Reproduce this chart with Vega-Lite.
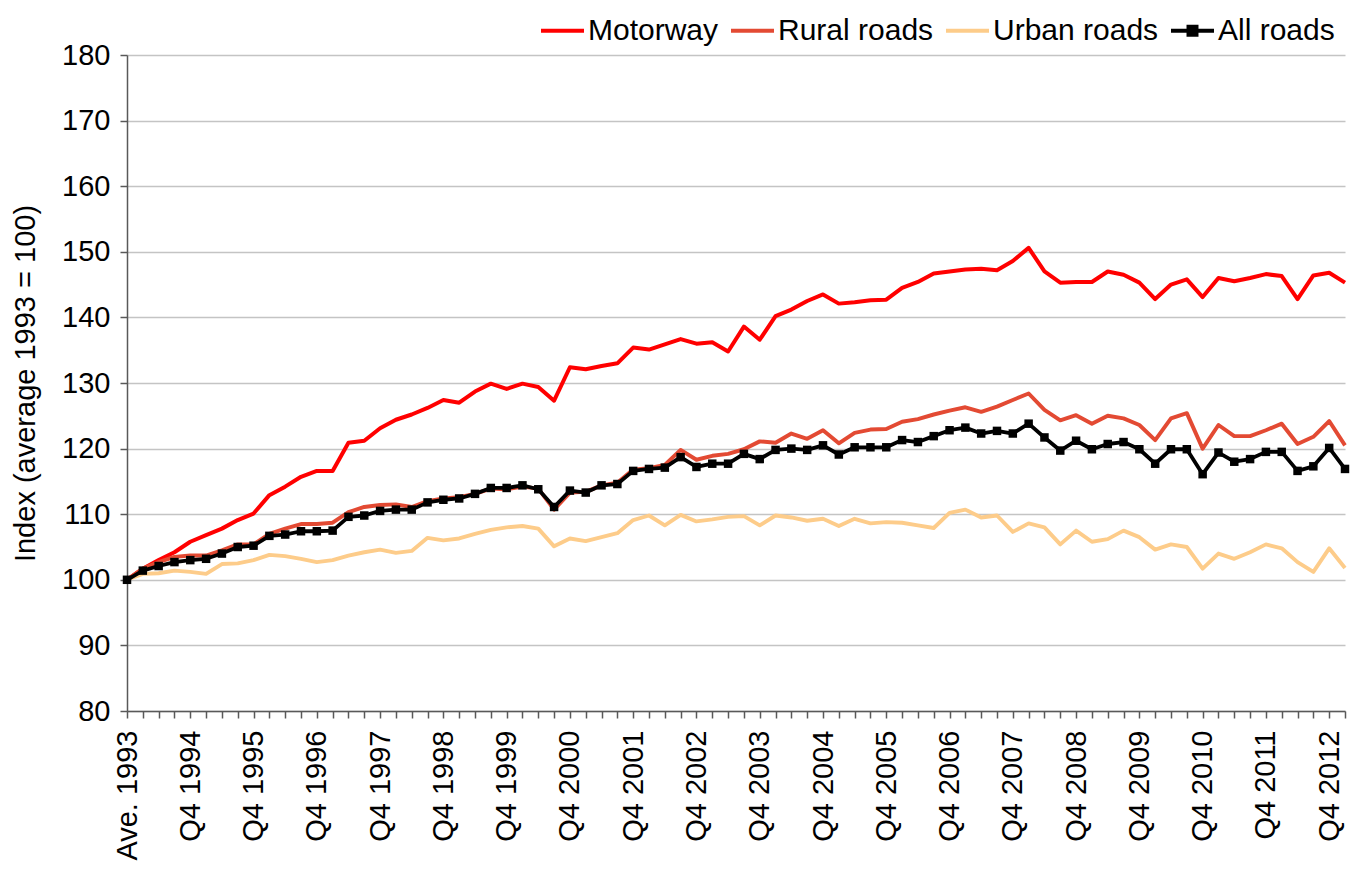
{
"$schema": "https://vega.github.io/schema/vega-lite/v6.json",
"width": 1218, "height": 656,
"autosize": {"type": "none"},
"padding": {"left": 127, "top": 55, "right": 7, "bottom": 158},
"background": "white",
"config": {"view": {"stroke": null}, "font": "Liberation Sans"},
"datasets": {"roads": [
{"period":"Ave. 1993","road":"Motorway","index":100},
{"period":"Q1 1994","road":"Motorway","index":101.7},
{"period":"Q2 1994","road":"Motorway","index":103.0},
{"period":"Q3 1994","road":"Motorway","index":104.2},
{"period":"Q4 1994","road":"Motorway","index":105.8},
{"period":"Q1 1995","road":"Motorway","index":106.8},
{"period":"Q2 1995","road":"Motorway","index":107.8},
{"period":"Q3 1995","road":"Motorway","index":109.1},
{"period":"Q4 1995","road":"Motorway","index":110.1},
{"period":"Q1 1996","road":"Motorway","index":112.9},
{"period":"Q2 1996","road":"Motorway","index":114.2},
{"period":"Q3 1996","road":"Motorway","index":115.7},
{"period":"Q4 1996","road":"Motorway","index":116.6},
{"period":"Q1 1997","road":"Motorway","index":116.6},
{"period":"Q2 1997","road":"Motorway","index":120.9},
{"period":"Q3 1997","road":"Motorway","index":121.2},
{"period":"Q4 1997","road":"Motorway","index":123.1},
{"period":"Q1 1998","road":"Motorway","index":124.4},
{"period":"Q2 1998","road":"Motorway","index":125.2},
{"period":"Q3 1998","road":"Motorway","index":126.2},
{"period":"Q4 1998","road":"Motorway","index":127.4},
{"period":"Q1 1999","road":"Motorway","index":127.0},
{"period":"Q2 1999","road":"Motorway","index":128.7},
{"period":"Q3 1999","road":"Motorway","index":129.9},
{"period":"Q4 1999","road":"Motorway","index":129.1},
{"period":"Q1 2000","road":"Motorway","index":129.9},
{"period":"Q2 2000","road":"Motorway","index":129.4},
{"period":"Q3 2000","road":"Motorway","index":127.3},
{"period":"Q4 2000","road":"Motorway","index":132.4},
{"period":"Q1 2001","road":"Motorway","index":132.1},
{"period":"Q2 2001","road":"Motorway","index":132.6},
{"period":"Q3 2001","road":"Motorway","index":133.0},
{"period":"Q4 2001","road":"Motorway","index":135.4},
{"period":"Q1 2002","road":"Motorway","index":135.1},
{"period":"Q2 2002","road":"Motorway","index":135.9},
{"period":"Q3 2002","road":"Motorway","index":136.7},
{"period":"Q4 2002","road":"Motorway","index":136.0},
{"period":"Q1 2003","road":"Motorway","index":136.2},
{"period":"Q2 2003","road":"Motorway","index":134.8},
{"period":"Q3 2003","road":"Motorway","index":138.6},
{"period":"Q4 2003","road":"Motorway","index":136.6},
{"period":"Q1 2004","road":"Motorway","index":140.2},
{"period":"Q2 2004","road":"Motorway","index":141.2},
{"period":"Q3 2004","road":"Motorway","index":142.5},
{"period":"Q4 2004","road":"Motorway","index":143.5},
{"period":"Q1 2005","road":"Motorway","index":142.1},
{"period":"Q2 2005","road":"Motorway","index":142.3},
{"period":"Q3 2005","road":"Motorway","index":142.6},
{"period":"Q4 2005","road":"Motorway","index":142.7},
{"period":"Q1 2006","road":"Motorway","index":144.5},
{"period":"Q2 2006","road":"Motorway","index":145.4},
{"period":"Q3 2006","road":"Motorway","index":146.7},
{"period":"Q4 2006","road":"Motorway","index":147.0},
{"period":"Q1 2007","road":"Motorway","index":147.3},
{"period":"Q2 2007","road":"Motorway","index":147.4},
{"period":"Q3 2007","road":"Motorway","index":147.2},
{"period":"Q4 2007","road":"Motorway","index":148.6},
{"period":"Q1 2008","road":"Motorway","index":150.6},
{"period":"Q2 2008","road":"Motorway","index":147.0},
{"period":"Q3 2008","road":"Motorway","index":145.3},
{"period":"Q4 2008","road":"Motorway","index":145.4},
{"period":"Q1 2009","road":"Motorway","index":145.4},
{"period":"Q2 2009","road":"Motorway","index":147.0},
{"period":"Q3 2009","road":"Motorway","index":146.5},
{"period":"Q4 2009","road":"Motorway","index":145.3},
{"period":"Q1 2010","road":"Motorway","index":142.8},
{"period":"Q2 2010","road":"Motorway","index":145.0},
{"period":"Q3 2010","road":"Motorway","index":145.8},
{"period":"Q4 2010","road":"Motorway","index":143.1},
{"period":"Q1 2011","road":"Motorway","index":146.0},
{"period":"Q2 2011","road":"Motorway","index":145.5},
{"period":"Q3 2011","road":"Motorway","index":146.0},
{"period":"Q4 2011","road":"Motorway","index":146.6},
{"period":"Q1 2012","road":"Motorway","index":146.3},
{"period":"Q2 2012","road":"Motorway","index":142.8},
{"period":"Q3 2012","road":"Motorway","index":146.4},
{"period":"Q4 2012","road":"Motorway","index":146.8},
{"period":"Q1 2013","road":"Motorway","index":145.3},
{"period":"Ave. 1993","road":"Rural roads","index":100},
{"period":"Q1 1994","road":"Rural roads","index":101.7},
{"period":"Q2 1994","road":"Rural roads","index":102.7},
{"period":"Q3 1994","road":"Rural roads","index":103.5},
{"period":"Q4 1994","road":"Rural roads","index":103.7},
{"period":"Q1 1995","road":"Rural roads","index":103.7},
{"period":"Q2 1995","road":"Rural roads","index":104.5},
{"period":"Q3 1995","road":"Rural roads","index":105.4},
{"period":"Q4 1995","road":"Rural roads","index":105.4},
{"period":"Q1 1996","road":"Rural roads","index":107.0},
{"period":"Q2 1996","road":"Rural roads","index":107.8},
{"period":"Q3 1996","road":"Rural roads","index":108.5},
{"period":"Q4 1996","road":"Rural roads","index":108.5},
{"period":"Q1 1997","road":"Rural roads","index":108.7},
{"period":"Q2 1997","road":"Rural roads","index":110.3},
{"period":"Q3 1997","road":"Rural roads","index":111.1},
{"period":"Q4 1997","road":"Rural roads","index":111.4},
{"period":"Q1 1998","road":"Rural roads","index":111.5},
{"period":"Q2 1998","road":"Rural roads","index":111.1},
{"period":"Q3 1998","road":"Rural roads","index":112.0},
{"period":"Q4 1998","road":"Rural roads","index":112.4},
{"period":"Q1 1999","road":"Rural roads","index":112.6},
{"period":"Q2 1999","road":"Rural roads","index":113.1},
{"period":"Q3 1999","road":"Rural roads","index":113.9},
{"period":"Q4 1999","road":"Rural roads","index":113.8},
{"period":"Q1 2000","road":"Rural roads","index":114.2},
{"period":"Q2 2000","road":"Rural roads","index":113.9},
{"period":"Q3 2000","road":"Rural roads","index":110.7},
{"period":"Q4 2000","road":"Rural roads","index":113.3},
{"period":"Q1 2001","road":"Rural roads","index":113.4},
{"period":"Q2 2001","road":"Rural roads","index":114.4},
{"period":"Q3 2001","road":"Rural roads","index":114.8},
{"period":"Q4 2001","road":"Rural roads","index":116.8},
{"period":"Q1 2002","road":"Rural roads","index":117.0},
{"period":"Q2 2002","road":"Rural roads","index":117.5},
{"period":"Q3 2002","road":"Rural roads","index":119.8},
{"period":"Q4 2002","road":"Rural roads","index":118.3},
{"period":"Q1 2003","road":"Rural roads","index":118.9},
{"period":"Q2 2003","road":"Rural roads","index":119.2},
{"period":"Q3 2003","road":"Rural roads","index":119.9},
{"period":"Q4 2003","road":"Rural roads","index":121.1},
{"period":"Q1 2004","road":"Rural roads","index":120.9},
{"period":"Q2 2004","road":"Rural roads","index":122.3},
{"period":"Q3 2004","road":"Rural roads","index":121.5},
{"period":"Q4 2004","road":"Rural roads","index":122.8},
{"period":"Q1 2005","road":"Rural roads","index":120.8},
{"period":"Q2 2005","road":"Rural roads","index":122.4},
{"period":"Q3 2005","road":"Rural roads","index":122.9},
{"period":"Q4 2005","road":"Rural roads","index":123.0},
{"period":"Q1 2006","road":"Rural roads","index":124.1},
{"period":"Q2 2006","road":"Rural roads","index":124.5},
{"period":"Q3 2006","road":"Rural roads","index":125.2},
{"period":"Q4 2006","road":"Rural roads","index":125.8},
{"period":"Q1 2007","road":"Rural roads","index":126.3},
{"period":"Q2 2007","road":"Rural roads","index":125.6},
{"period":"Q3 2007","road":"Rural roads","index":126.4},
{"period":"Q4 2007","road":"Rural roads","index":127.4},
{"period":"Q1 2008","road":"Rural roads","index":128.4},
{"period":"Q2 2008","road":"Rural roads","index":125.9},
{"period":"Q3 2008","road":"Rural roads","index":124.3},
{"period":"Q4 2008","road":"Rural roads","index":125.1},
{"period":"Q1 2009","road":"Rural roads","index":123.8},
{"period":"Q2 2009","road":"Rural roads","index":125.0},
{"period":"Q3 2009","road":"Rural roads","index":124.6},
{"period":"Q4 2009","road":"Rural roads","index":123.6},
{"period":"Q1 2010","road":"Rural roads","index":121.3},
{"period":"Q2 2010","road":"Rural roads","index":124.6},
{"period":"Q3 2010","road":"Rural roads","index":125.4},
{"period":"Q4 2010","road":"Rural roads","index":120.0},
{"period":"Q1 2011","road":"Rural roads","index":123.6},
{"period":"Q2 2011","road":"Rural roads","index":121.9},
{"period":"Q3 2011","road":"Rural roads","index":121.9},
{"period":"Q4 2011","road":"Rural roads","index":122.8},
{"period":"Q1 2012","road":"Rural roads","index":123.8},
{"period":"Q2 2012","road":"Rural roads","index":120.7},
{"period":"Q3 2012","road":"Rural roads","index":121.8},
{"period":"Q4 2012","road":"Rural roads","index":124.2},
{"period":"Q1 2013","road":"Rural roads","index":120.5},
{"period":"Ave. 1993","road":"Urban roads","index":100},
{"period":"Q1 1994","road":"Urban roads","index":100.9},
{"period":"Q2 1994","road":"Urban roads","index":101.0},
{"period":"Q3 1994","road":"Urban roads","index":101.4},
{"period":"Q4 1994","road":"Urban roads","index":101.2},
{"period":"Q1 1995","road":"Urban roads","index":100.9},
{"period":"Q2 1995","road":"Urban roads","index":102.4},
{"period":"Q3 1995","road":"Urban roads","index":102.5},
{"period":"Q4 1995","road":"Urban roads","index":103.0},
{"period":"Q1 1996","road":"Urban roads","index":103.8},
{"period":"Q2 1996","road":"Urban roads","index":103.6},
{"period":"Q3 1996","road":"Urban roads","index":103.2},
{"period":"Q4 1996","road":"Urban roads","index":102.7},
{"period":"Q1 1997","road":"Urban roads","index":103.0},
{"period":"Q2 1997","road":"Urban roads","index":103.7},
{"period":"Q3 1997","road":"Urban roads","index":104.2},
{"period":"Q4 1997","road":"Urban roads","index":104.6},
{"period":"Q1 1998","road":"Urban roads","index":104.1},
{"period":"Q2 1998","road":"Urban roads","index":104.4},
{"period":"Q3 1998","road":"Urban roads","index":106.4},
{"period":"Q4 1998","road":"Urban roads","index":106.0},
{"period":"Q1 1999","road":"Urban roads","index":106.3},
{"period":"Q2 1999","road":"Urban roads","index":107.0},
{"period":"Q3 1999","road":"Urban roads","index":107.6},
{"period":"Q4 1999","road":"Urban roads","index":108.0},
{"period":"Q1 2000","road":"Urban roads","index":108.2},
{"period":"Q2 2000","road":"Urban roads","index":107.8},
{"period":"Q3 2000","road":"Urban roads","index":105.1},
{"period":"Q4 2000","road":"Urban roads","index":106.3},
{"period":"Q1 2001","road":"Urban roads","index":105.9},
{"period":"Q2 2001","road":"Urban roads","index":106.5},
{"period":"Q3 2001","road":"Urban roads","index":107.1},
{"period":"Q4 2001","road":"Urban roads","index":109.1},
{"period":"Q1 2002","road":"Urban roads","index":109.8},
{"period":"Q2 2002","road":"Urban roads","index":108.3},
{"period":"Q3 2002","road":"Urban roads","index":109.9},
{"period":"Q4 2002","road":"Urban roads","index":108.9},
{"period":"Q1 2003","road":"Urban roads","index":109.2},
{"period":"Q2 2003","road":"Urban roads","index":109.6},
{"period":"Q3 2003","road":"Urban roads","index":109.7},
{"period":"Q4 2003","road":"Urban roads","index":108.3},
{"period":"Q1 2004","road":"Urban roads","index":109.8},
{"period":"Q2 2004","road":"Urban roads","index":109.5},
{"period":"Q3 2004","road":"Urban roads","index":109.0},
{"period":"Q4 2004","road":"Urban roads","index":109.3},
{"period":"Q1 2005","road":"Urban roads","index":108.2},
{"period":"Q2 2005","road":"Urban roads","index":109.3},
{"period":"Q3 2005","road":"Urban roads","index":108.6},
{"period":"Q4 2005","road":"Urban roads","index":108.8},
{"period":"Q1 2006","road":"Urban roads","index":108.7},
{"period":"Q2 2006","road":"Urban roads","index":108.3},
{"period":"Q3 2006","road":"Urban roads","index":107.9},
{"period":"Q4 2006","road":"Urban roads","index":110.2},
{"period":"Q1 2007","road":"Urban roads","index":110.7},
{"period":"Q2 2007","road":"Urban roads","index":109.5},
{"period":"Q3 2007","road":"Urban roads","index":109.8},
{"period":"Q4 2007","road":"Urban roads","index":107.3},
{"period":"Q1 2008","road":"Urban roads","index":108.6},
{"period":"Q2 2008","road":"Urban roads","index":108.0},
{"period":"Q3 2008","road":"Urban roads","index":105.4},
{"period":"Q4 2008","road":"Urban roads","index":107.5},
{"period":"Q1 2009","road":"Urban roads","index":105.8},
{"period":"Q2 2009","road":"Urban roads","index":106.2},
{"period":"Q3 2009","road":"Urban roads","index":107.5},
{"period":"Q4 2009","road":"Urban roads","index":106.5},
{"period":"Q1 2010","road":"Urban roads","index":104.6},
{"period":"Q2 2010","road":"Urban roads","index":105.4},
{"period":"Q3 2010","road":"Urban roads","index":105.0},
{"period":"Q4 2010","road":"Urban roads","index":101.7},
{"period":"Q1 2011","road":"Urban roads","index":104.0},
{"period":"Q2 2011","road":"Urban roads","index":103.2},
{"period":"Q3 2011","road":"Urban roads","index":104.2},
{"period":"Q4 2011","road":"Urban roads","index":105.4},
{"period":"Q1 2012","road":"Urban roads","index":104.8},
{"period":"Q2 2012","road":"Urban roads","index":102.7},
{"period":"Q3 2012","road":"Urban roads","index":101.2},
{"period":"Q4 2012","road":"Urban roads","index":104.8},
{"period":"Q1 2013","road":"Urban roads","index":101.8},
{"period":"Ave. 1993","road":"All roads","index":100},
{"period":"Q1 1994","road":"All roads","index":101.4},
{"period":"Q2 1994","road":"All roads","index":102.1},
{"period":"Q3 1994","road":"All roads","index":102.7},
{"period":"Q4 1994","road":"All roads","index":103.0},
{"period":"Q1 1995","road":"All roads","index":103.2},
{"period":"Q2 1995","road":"All roads","index":104.0},
{"period":"Q3 1995","road":"All roads","index":105.0},
{"period":"Q4 1995","road":"All roads","index":105.2},
{"period":"Q1 1996","road":"All roads","index":106.7},
{"period":"Q2 1996","road":"All roads","index":106.9},
{"period":"Q3 1996","road":"All roads","index":107.4},
{"period":"Q4 1996","road":"All roads","index":107.4},
{"period":"Q1 1997","road":"All roads","index":107.5},
{"period":"Q2 1997","road":"All roads","index":109.6},
{"period":"Q3 1997","road":"All roads","index":109.8},
{"period":"Q4 1997","road":"All roads","index":110.5},
{"period":"Q1 1998","road":"All roads","index":110.7},
{"period":"Q2 1998","road":"All roads","index":110.7},
{"period":"Q3 1998","road":"All roads","index":111.8},
{"period":"Q4 1998","road":"All roads","index":112.2},
{"period":"Q1 1999","road":"All roads","index":112.4},
{"period":"Q2 1999","road":"All roads","index":113.1},
{"period":"Q3 1999","road":"All roads","index":114.0},
{"period":"Q4 1999","road":"All roads","index":114.0},
{"period":"Q1 2000","road":"All roads","index":114.4},
{"period":"Q2 2000","road":"All roads","index":113.8},
{"period":"Q3 2000","road":"All roads","index":111.1},
{"period":"Q4 2000","road":"All roads","index":113.6},
{"period":"Q1 2001","road":"All roads","index":113.3},
{"period":"Q2 2001","road":"All roads","index":114.4},
{"period":"Q3 2001","road":"All roads","index":114.6},
{"period":"Q4 2001","road":"All roads","index":116.6},
{"period":"Q1 2002","road":"All roads","index":116.9},
{"period":"Q2 2002","road":"All roads","index":117.1},
{"period":"Q3 2002","road":"All roads","index":118.7},
{"period":"Q4 2002","road":"All roads","index":117.2},
{"period":"Q1 2003","road":"All roads","index":117.7},
{"period":"Q2 2003","road":"All roads","index":117.7},
{"period":"Q3 2003","road":"All roads","index":119.2},
{"period":"Q4 2003","road":"All roads","index":118.4},
{"period":"Q1 2004","road":"All roads","index":119.8},
{"period":"Q2 2004","road":"All roads","index":120.0},
{"period":"Q3 2004","road":"All roads","index":119.8},
{"period":"Q4 2004","road":"All roads","index":120.5},
{"period":"Q1 2005","road":"All roads","index":119.1},
{"period":"Q2 2005","road":"All roads","index":120.2},
{"period":"Q3 2005","road":"All roads","index":120.2},
{"period":"Q4 2005","road":"All roads","index":120.2},
{"period":"Q1 2006","road":"All roads","index":121.3},
{"period":"Q2 2006","road":"All roads","index":121.0},
{"period":"Q3 2006","road":"All roads","index":121.9},
{"period":"Q4 2006","road":"All roads","index":122.8},
{"period":"Q1 2007","road":"All roads","index":123.2},
{"period":"Q2 2007","road":"All roads","index":122.3},
{"period":"Q3 2007","road":"All roads","index":122.7},
{"period":"Q4 2007","road":"All roads","index":122.3},
{"period":"Q1 2008","road":"All roads","index":123.8},
{"period":"Q2 2008","road":"All roads","index":121.7},
{"period":"Q3 2008","road":"All roads","index":119.7},
{"period":"Q4 2008","road":"All roads","index":121.2},
{"period":"Q1 2009","road":"All roads","index":119.9},
{"period":"Q2 2009","road":"All roads","index":120.7},
{"period":"Q3 2009","road":"All roads","index":121.0},
{"period":"Q4 2009","road":"All roads","index":119.9},
{"period":"Q1 2010","road":"All roads","index":117.7},
{"period":"Q2 2010","road":"All roads","index":119.9},
{"period":"Q3 2010","road":"All roads","index":119.9},
{"period":"Q4 2010","road":"All roads","index":116.1},
{"period":"Q1 2011","road":"All roads","index":119.4},
{"period":"Q2 2011","road":"All roads","index":118.0},
{"period":"Q3 2011","road":"All roads","index":118.4},
{"period":"Q4 2011","road":"All roads","index":119.5},
{"period":"Q1 2012","road":"All roads","index":119.5},
{"period":"Q2 2012","road":"All roads","index":116.6},
{"period":"Q3 2012","road":"All roads","index":117.3},
{"period":"Q4 2012","road":"All roads","index":120.1},
{"period":"Q1 2013","road":"All roads","index":116.9}
]},
"data": {"name": "roads"},
"encoding": {
  "x": {"field": "period", "type": "ordinal", "sort": null,
        "scale": {"type": "point", "padding": 0},
        "axis": {"title": null, "labelAngle": -90, "labelFontSize": 29, "labelColor": "#000000",
                 "labelExpr": "datum.value === 'Ave. 1993' || slice(datum.value, 0, 2) === 'Q4' ? datum.value : ''",
                 "labelOverlap": false, "labelPadding": 12, "tickSize": 7, "tickColor": "#595959", "tickWidth": 1.5,
                 "domainColor": "#595959", "domainWidth": 1.5, "grid": false, "labelBound": false}},
  "y": {"field": "index", "type": "quantitative",
        "scale": {"domain": [80, 180], "nice": false, "zero": false},
        "axis": {"title": "Index (average 1993 = 100)", "titleFontSize": 29, "titleFontWeight": "normal", "titleColor": "#000000",
                 "titlePadding": 21, "values": [80, 90, 100, 110, 120, 130, 140, 150, 160, 170, 180],
                 "labelFontSize": 29, "labelColor": "#000000", "labelPadding": 10, "tickSize": 7, "tickColor": "#595959", "tickWidth": 1.5,
                 "domainColor": "#595959", "domainWidth": 1.5, "grid": true, "gridColor": "#C4C4C4", "gridWidth": 1.5}}
},
"layer": [
  {"mark": {"type": "line", "strokeJoin": "round"},
   "encoding": {
     "color": {"field": "road", "type": "nominal",
               "scale": {"domain": ["Motorway", "Rural roads", "Urban roads", "All roads"], "range": ["#FF0000", "#E34A33", "#FDCC8A", "#000000"]},
               "legend": {"title": null, "orient": "none", "legendX": 412, "legendY": -48, "direction": "horizontal",
                          "symbolType": "stroke", "symbolSize": 1849, "symbolStrokeWidth": 3.5, "labelFontSize": 30, "labelColor": "#000000",
                          "labelOffset": 2, "columnPadding": 4, "padding": 0, "labelLimit": 400,
                          "encode": {"symbols": {"update": {
                              "shape": {"signal": "datum.value === 'All roads' ? 'M-1,0H1M-0.19,-0.19H0.19V0.19H-0.19Z' : 'stroke'"},
                              "fill": {"signal": "datum.value === 'All roads' ? '#000000' : 'transparent'"},
                              "strokeWidth": {"signal": "datum.value === 'All roads' ? 2.5 : 3.5"}}}}}},
     "strokeWidth": {"field": "road", "type": "nominal",
                     "scale": {"domain": ["Motorway", "Rural roads", "Urban roads", "All roads"], "range": [4, 3.8, 3.8, 2.6]},
                     "legend": null}
   }},
  {"transform": [{"filter": "datum.road === 'All roads'"}],
   "mark": {"type": "square", "size": 72, "color": "#000000", "filled": true, "opacity": 1}}
]
}
